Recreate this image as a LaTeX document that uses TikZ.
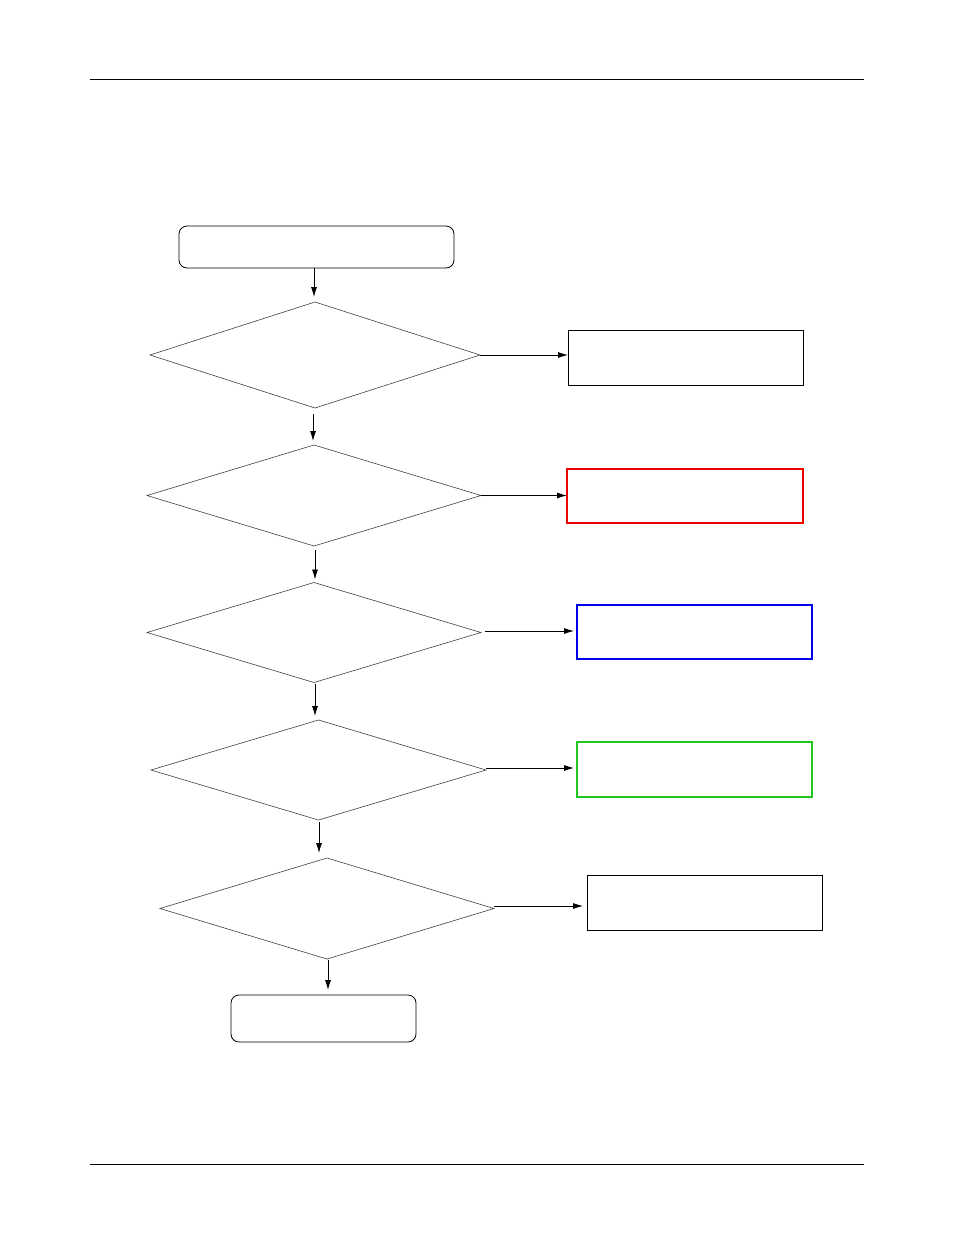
\documentclass[tikz,border=0pt]{standalone}
\usetikzlibrary{shapes.geometric,arrows.meta}
\definecolor{boxred}{RGB}{235,0,0}
\definecolor{boxblue}{RGB}{0,0,235}
\definecolor{boxgreen}{RGB}{30,200,30}
\begin{document}
\begin{tikzpicture}[x=1pt,y=-1pt,
  decision/.style={draw=black!75,diamond,line width=0.6pt,inner sep=0pt,outer sep=0pt},
  procbox/.style={draw,rectangle,line width=0.9pt,inner sep=0pt,outer sep=0pt,minimum width=235pt,minimum height=55pt},
  markbox/.style={procbox,line width=1.5pt,draw=#1},
  termbox/.style={draw,rectangle,rounded corners=8pt,line width=0.8pt,inner sep=0pt,outer sep=0pt},
  flow/.style={-{Latex[length=10pt,width=6pt]},line width=0.8pt}]
\useasboundingbox (0,0) rectangle (954,1235);
% page rules
\draw[line width=0.9pt] (90,79) -- (864,79);
\draw[line width=0.9pt] (90,1164) -- (864,1164);
% start and end
\node[termbox,minimum width=275pt,minimum height=42pt] (start) at (316.5,247) {};
\node[termbox,minimum width=185pt,minimum height=47pt] (finish) at (323.5,1018.5) {};
% checks
\node[decision,minimum width=330pt,minimum height=106pt] (chk1) at (315,355) {};
\node[decision,minimum width=334pt,minimum height=101pt] (chk2) at (314,495.5) {};
\node[decision,minimum width=334pt,minimum height=100pt] (chk3) at (314,632.5) {};
\node[decision,minimum width=335pt,minimum height=100pt] (chk4) at (318.5,770) {};
\node[decision,minimum width=334pt,minimum height=101pt] (chk5) at (327,908.5) {};
% actions
\node[procbox] (act1) at (685.5,357.5) {};
\node[markbox=boxred,minimum width=236pt,minimum height=54pt] (act2) at (685,496) {};
\node[markbox=boxblue,minimum height=54pt] (act3) at (694.5,632) {};
\node[markbox=boxgreen] (act4) at (694.5,769.5) {};
\node[procbox] (act5) at (704.5,902.5) {};
% main line
\draw[flow,shorten >=5pt] (start.south -| 314,0) -- (314,302);
\draw[flow,shorten <=6pt,shorten >=4pt] (313,408) -- (313,445);
\draw[flow,shorten <=4pt,shorten >=3pt] (chk2.south -| 315,0) -- (chk3.north -| 315,0);
\draw[flow,shorten <=1pt,shorten >=4pt] (chk3.south -| 315,0) -- (chk4.north -| 315,0);
\draw[flow,shorten <=2pt,shorten >=5pt] (chk4.south -| 319,0) -- (chk5.north -| 319,0);
\draw[flow,shorten <=1pt,shorten >=5pt] (chk5.south -| 328,0) -- (finish.north -| 328,0);
% branches
\draw[flow] (chk1.east) -- (chk1.east -| act1.west);
\draw[flow] (chk2.east) -- (chk2.east -| act2.west);
\draw[flow,shorten <=4pt,shorten >=3pt] (chk3.east |- 0,631) -- (act3.west |- 0,631);
\draw[flow,shorten >=3pt] (chk4.east |- 0,768) -- (act4.west |- 0,768);
\draw[flow,shorten >=4pt] (chk5.east |- 0,906) -- (act5.west |- 0,906);
\end{tikzpicture}
\end{document}
